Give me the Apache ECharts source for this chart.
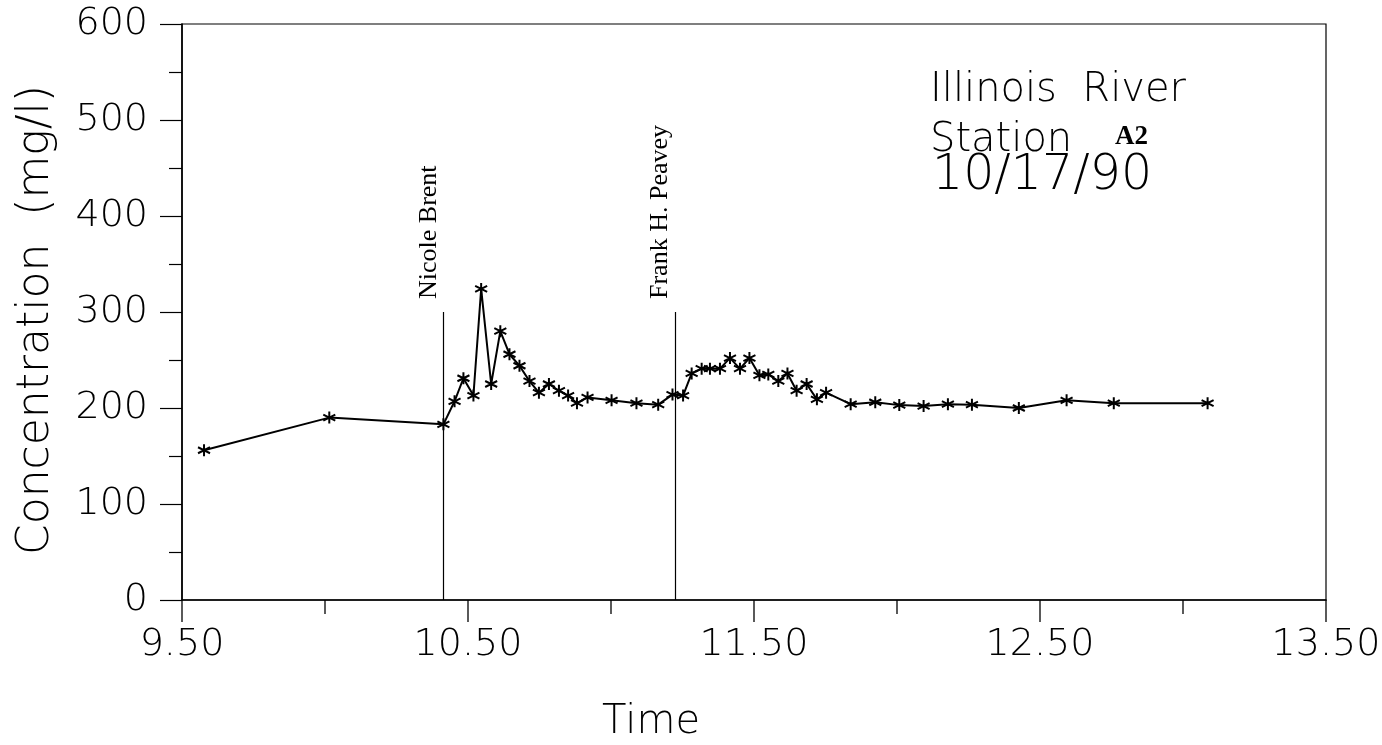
<!DOCTYPE html>
<html>
<head>
<meta charset="utf-8">
<script src="https://cdn.jsdelivr.net/npm/echarts@6/dist/echarts.min.js"></script>
<style>
html,body{margin:0;padding:0;background:#fff;}
#chart{width:1382px;height:745px;}
</style>
</head>
<body>
<div id="chart"></div>
<script>
// Data
const timeValues = [9.577, 10.015, 10.414, 10.453, 10.484, 10.519, 10.546, 10.581, 10.613, 10.645,
  10.680, 10.715, 10.748, 10.783, 10.818, 10.850, 10.881, 10.918, 11.002, 11.089, 11.165,
  11.215, 11.252, 11.282, 11.317, 11.346, 11.381, 11.416, 11.451, 11.484, 11.519, 11.550,
  11.585, 11.617, 11.649, 11.684, 11.720, 11.752, 11.838, 11.924, 12.008, 12.093, 12.178,
  12.262, 12.426, 12.593, 12.758, 13.086];
const concValues = [156, 190, 183, 207, 231, 213, 324, 225, 280, 256,
  244, 228, 216, 225, 218, 213, 205, 211, 208, 205, 203.5,
  214, 213, 236, 241, 241, 241, 252, 241, 252, 234, 235,
  228, 236, 218, 225, 209, 216, 204, 206, 203, 202, 204,
  203.5, 200, 208, 205, 205];
const eventNames = ['Nicole Brent', 'Frank H. Peavey'];
const eventTimes = [10.415, 11.225];
const eventTop = 300;
const xMajorTicks = [9.5, 10.5, 11.5, 12.5, 13.5];
const xMinorTicks = [10, 11, 12, 13];
const xTickLabels = ['9.50', '10.50', '11.50', '12.50', '13.50'];
const yTickLabels = ['0', '100', '200', '300', '400', '500', '600'];
const annotationLines = ['Illinois  River', 'Station', 'A2', '10/17/90'];
const xAxisTitle = 'Time';
const yAxisTitle = 'Concentration  (mg/l)';

const points = timeValues.map((t, i) => [t, concValues[i]]);
const font = "'DejaVu Sans', sans-serif";
const serif = "'Liberation Serif', 'Times New Roman', serif";
const asterisk = 'path://M0,-5L0,5M-4.33,-2.5L4.33,2.5M-4.33,2.5L4.33,-2.5';

const chart = echarts.init(document.getElementById('chart'), null, {renderer: 'canvas'});

const eventLines = eventTimes.map(t => [{coord: [t, 0]}, {coord: [t, eventTop]}]);

chart.setOption({
  backgroundColor: '#fff',
  animation: false,
  grid: {left: 182, right: 56, top: 24, bottom: 145, containLabel: false, outerBoundsMode: 'none',
    show: true, borderColor: '#000', borderWidth: 1.2, backgroundColor: 'transparent'},
  xAxis: {
    type: 'value', min: 9.5, max: 13.5, interval: 1,
    axisLine: {lineStyle: {color: '#000', width: 1.6}},
    axisTick: {show: false},
    minorTick: {show: false},
    splitLine: {show: false},
    axisLabel: {fontFamily: font, fontSize: 38, fontWeight: 200, color: '#000', margin: 26,
      formatter: v => { const s = v.toFixed(2); return xTickLabels.includes(s) ? s : ''; }}
  },
  yAxis: {
    type: 'value', min: 0, max: 600, interval: 100,
    axisLine: {lineStyle: {color: '#000', width: 1.6}},
    axisTick: {show: true, inside: false, length: 22, lineStyle: {color: '#000', width: 1.2}},
    minorTick: {show: true, splitNumber: 2, length: 13, lineStyle: {color: '#000', width: 1.2}},
    splitLine: {show: false},
    axisLabel: {fontFamily: font, fontSize: 38, fontWeight: 200, color: '#000', margin: 34,
      formatter: v => { const s = String(v); return yTickLabels.includes(s) ? s : ''; }}
  },
  series: [{
    type: 'line',
    data: points,
    symbol: asterisk,
    symbolSize: 12,
    showAllSymbol: true,
    lineStyle: {color: '#000', width: 2},
    itemStyle: {color: 'transparent', borderColor: '#000', borderWidth: 2},
    markLine: {
      silent: true, symbol: 'none', animation: false,
      lineStyle: {color: '#000', width: 1.2, type: 'solid'},
      label: {show: false},
      data: eventLines
    },
    z: 3
  }]
});

function placeGraphics() {
  const elements = [];
  // x-axis ticks, pointing down out of the plot
  xMajorTicks.forEach(v => {
    const p = chart.convertToPixel({gridIndex: 0}, [v, 0]);
    elements.push({type: 'line', shape: {x1: p[0], y1: p[1], x2: p[0], y2: p[1] + 22}, style: {stroke: '#000', lineWidth: 1.3}});
  });
  xMinorTicks.forEach(v => {
    const p = chart.convertToPixel({gridIndex: 0}, [v, 0]);
    elements.push({type: 'line', shape: {x1: p[0], y1: p[1], x2: p[0], y2: p[1] + 14}, style: {stroke: '#000', lineWidth: 1.3}});
  });
  eventTimes.forEach((t, i) => {
    const p = chart.convertToPixel({gridIndex: 0}, [t, eventTop]);
    elements.push({
      type: 'text', x: p[0] - 15, y: p[1] - 13, rotation: Math.PI / 2,
      style: {text: eventNames[i], fontFamily: serif, fontSize: 26,
        fill: '#000', align: 'left', verticalAlign: 'middle'}
    });
  });
  // axis titles
  const tpos = chart.convertToPixel({gridIndex: 0}, [11.14, 0]);
  elements.push({type: 'text', x: tpos[0], y: tpos[1] + 123,
    style: {text: xAxisTitle, fontFamily: font, fontSize: 40, fontWeight: 200, fill: '#000', align: 'center', verticalAlign: 'middle'}});
  const ypos = chart.convertToPixel({gridIndex: 0}, [9.5, 300]);
  elements.push({type: 'text', x: ypos[0] - 145, y: ypos[1] + 8, rotation: Math.PI / 2,
    style: {text: yAxisTitle, fontFamily: font, fontSize: 44, fontWeight: 200, fill: '#000', align: 'center', verticalAlign: 'middle'}});
  // annotation block
  const a = chart.convertToPixel({gridIndex: 0}, [12.0, 520]);
  elements.push({type: 'text', x: a[0] + 33, y: a[1] - 30,
    style: {text: annotationLines[0], fontFamily: font, fontSize: 40, fontWeight: 200, fill: '#000', align: 'left', verticalAlign: 'top'}});
  elements.push({type: 'text', x: a[0] + 33, y: a[1] + 20,
    style: {text: annotationLines[1], fontFamily: font, fontSize: 40, fontWeight: 200, fill: '#000', align: 'left', verticalAlign: 'top'}});
  elements.push({type: 'text', x: a[0] + 218, y: a[1] + 23,
    style: {text: annotationLines[2], fontFamily: serif, fontSize: 27, fontWeight: 'bold', fill: '#000', align: 'left', verticalAlign: 'top'}});
  elements.push({type: 'text', x: a[0] + 35, y: a[1] + 51,
    style: {text: annotationLines[3], fontFamily: font, fontSize: 49, fontWeight: 200, fill: '#000', align: 'left', verticalAlign: 'top'}});
  chart.setOption({graphic: {elements: elements}});
}
placeGraphics();
</script>
</body>
</html>
